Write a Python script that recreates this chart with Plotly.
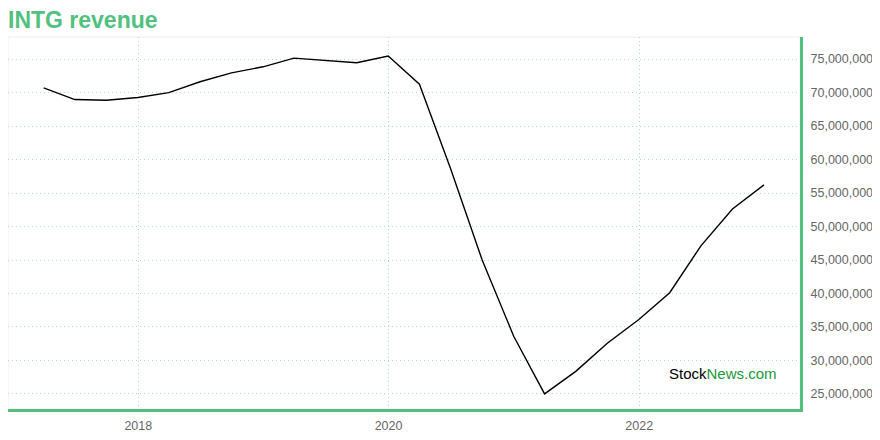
import plotly.graph_objects as go

dates = ["2017-03-31", "2017-06-30", "2017-09-30", "2017-12-31",
         "2018-03-31", "2018-06-30", "2018-09-30", "2018-12-31",
         "2019-03-31", "2019-06-30", "2019-09-30", "2019-12-31",
         "2020-03-31", "2020-06-30", "2020-09-30", "2020-12-31",
         "2021-03-31", "2021-06-30", "2021-09-30", "2021-12-31",
         "2022-03-31", "2022-06-30", "2022-09-30", "2022-12-31"]
revenue = [70.70e6, 68.96e6, 68.85e6, 69.26e6,
           70.00e6, 71.62e6, 72.95e6, 73.85e6,
           75.15e6, 74.75e6, 74.45e6, 75.45e6,
           71.25e6, 58.61e6, 45.00e6, 33.62e6,
           25.00e6, 28.37e6, 32.57e6, 36.12e6,
           40.11e6, 47.11e6, 52.62e6, 56.21e6]

GREEN = "#52c07e"
GRID = "#a8e2c4"
FAM = "Liberation Sans, Arial, sans-serif"

fig = go.Figure()
fig.add_trace(go.Scatter(x=dates, y=revenue, mode="lines",
                         line=dict(color="#000000", width=1.4),
                         hoverinfo="skip", showlegend=False))

fig.update_layout(
    width=880, height=440,
    margin=dict(l=0, r=88, t=29, b=39, autoexpand=False),
    paper_bgcolor="white", plot_bgcolor="white",
    font=dict(family=FAM, color="#666666", size=12),
    title=dict(text="<b>INTG revenue</b>", x=0, xanchor="left", y=0.972, yanchor="middle",
               font=dict(size=23, color=GREEN, family=FAM)),
    xaxis=dict(type="date", range=["2016-12-17", "2023-04-15"],
               tickvals=["2018-01-01", "2020-01-01", "2022-01-01"],
               ticktext=["2018", "2020", "2022"],
               tickfont=dict(family=FAM, size=12.5, color="#666666"),
               showgrid=True, gridcolor=GRID, griddash="1px,3px", gridwidth=1,
               showline=True, linecolor=GREEN, linewidth=3,
               ticks="", zeroline=False, ticklabelstandoff=3),
    yaxis=dict(side="right", range=[22.75e6, 78.3e6], dtick=5e6, tick0=0,
               tickformat=",d",
               tickfont=dict(family=FAM, size=12.5, color="#666666"),
               showgrid=True, gridcolor=GRID, griddash="1px,3px", gridwidth=1,
               showline=True, linecolor=GREEN, linewidth=3,
               ticks="", zeroline=False, ticklabelstandoff=5),
    shapes=[dict(type="rect", xref="paper", yref="paper", x0=0, y0=0, x1=1, y1=1,
                 line=dict(color="#eeeeee", width=1), layer="below")],
    annotations=[dict(text="Stock<span style='color:#1a9a3a'>News.com</span>",
                      xref="paper", yref="paper", x=0.974, y=0.095,
                      xanchor="right", yanchor="middle", showarrow=False,
                      font=dict(size=15, color="#000000", family=FAM))],
)

fig.write_html("out.html")
